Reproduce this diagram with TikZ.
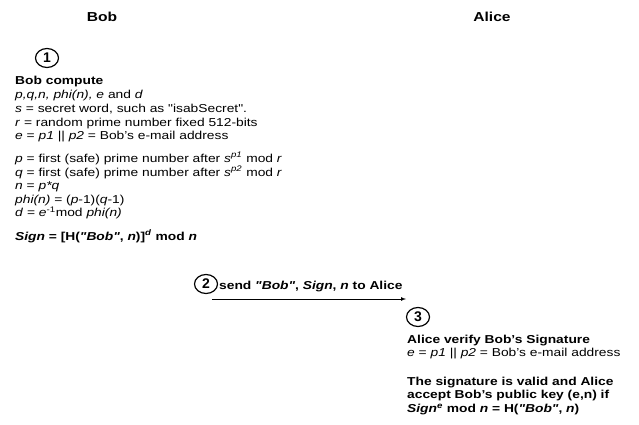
\documentclass[tikz,border=0pt]{standalone}
\usepackage{fontspec}
\usepackage{graphicx}
\setmainfont{Liberation Sans}
\usetikzlibrary{shapes.geometric}
\newcommand{\wideblock}[1]{\scalebox{1.2}[1]{\begin{tabular}[t]{@{}l@{}}#1\end{tabular}}}
\newcommand{\qq}{\textquotedbl}
\begin{document}
\begin{tikzpicture}[x=1pt,y=-1pt,
  txt/.style={anchor=base west, inner sep=0pt, font=\fontsize{11.5}{13.7}\selectfont},
  txtb/.style={anchor=base west, inner sep=0pt, font=\fontsize{11.5}{13.5}\selectfont},
  hdr/.style={anchor=center, inner sep=0pt, font=\fontsize{13}{15}\selectfont\bfseries},
  num/.style={draw, line width=1.2pt, ellipse, minimum width=23pt, minimum height=19pt, inner sep=0pt, font=\fontsize{14}{15}\selectfont\bfseries},
  msg/.style={-latex, line width=0.7pt}]
\useasboundingbox (0,0) rectangle (639,425);
\node[hdr] (bob) at (102,17) {\scalebox{1.2}[1]{Bob}};
\node[hdr] (alice) at (492,17) {\scalebox{1.2}[1]{Alice}};
\node[num] (n1) at (47,58) {1};
\node[txt] (ga) at (15,85) {\wideblock{\textbf{Bob compute}\\
\textit{p,q,n, phi(n), e} and \textit{d}\\
\textit{s} = secret word, such as \qq isabSecret\qq.\\
\textit{r} = random prime number fixed 512-bits\\
\textit{e} = \textit{p1} || \textit{p2} = Bob's e-mail address}};
\node[txtb] (gb) at (15,162) {\wideblock{\textit{p} = first (safe) prime number after \textit{s}\textsuperscript{\textit{p1}} mod \textit{r}\\
\textit{q} = first (safe) prime number after \textit{s}\textsuperscript{\textit{p2}} mod \textit{r}\\
\textit{n} = \textit{p*q}\\
\textit{phi(n)} = (\textit{p}-1)(\textit{q}-1)\\
\textit{d} = \textit{e}\textsuperscript{-1}mod \textit{phi(n)}}};
\node[txt] (gc) at (15,240) {\wideblock{\textbf{\textit{Sign} = [H(\textit{\qq Bob\qq}, \textit{n})]\textsuperscript{\textit{d}} mod \textit{n}}}};
\node[num] (n2) at (206,284) {2};
\node[txt] (snd) at (219,289) {\wideblock{\textbf{send \textit{\qq Bob\qq}, \textit{Sign}, \textit{n} to Alice}}};
\coordinate (a0) at (212,299);
\coordinate (a1) at (406,299);
\draw[msg] (a0) -- (a1);
\node[num] (n3) at (418,317) {3};
\node[txt] (ad) at (407,343) {\wideblock{\textbf{Alice verify Bob's Signature}\\
\textit{e} = \textit{p1} || \textit{p2} = Bob's e-mail address}};
\node[txt] (ae) at (407,385) {\wideblock{\textbf{The signature is valid and Alice}\\
\textbf{accept Bob's public key (e,n) if}\\
\textbf{\textit{Sign}\textsuperscript{\textit{e}} mod \textit{n} = H(\textit{\qq Bob\qq}, \textit{n})}}};
\end{tikzpicture}
\end{document}
